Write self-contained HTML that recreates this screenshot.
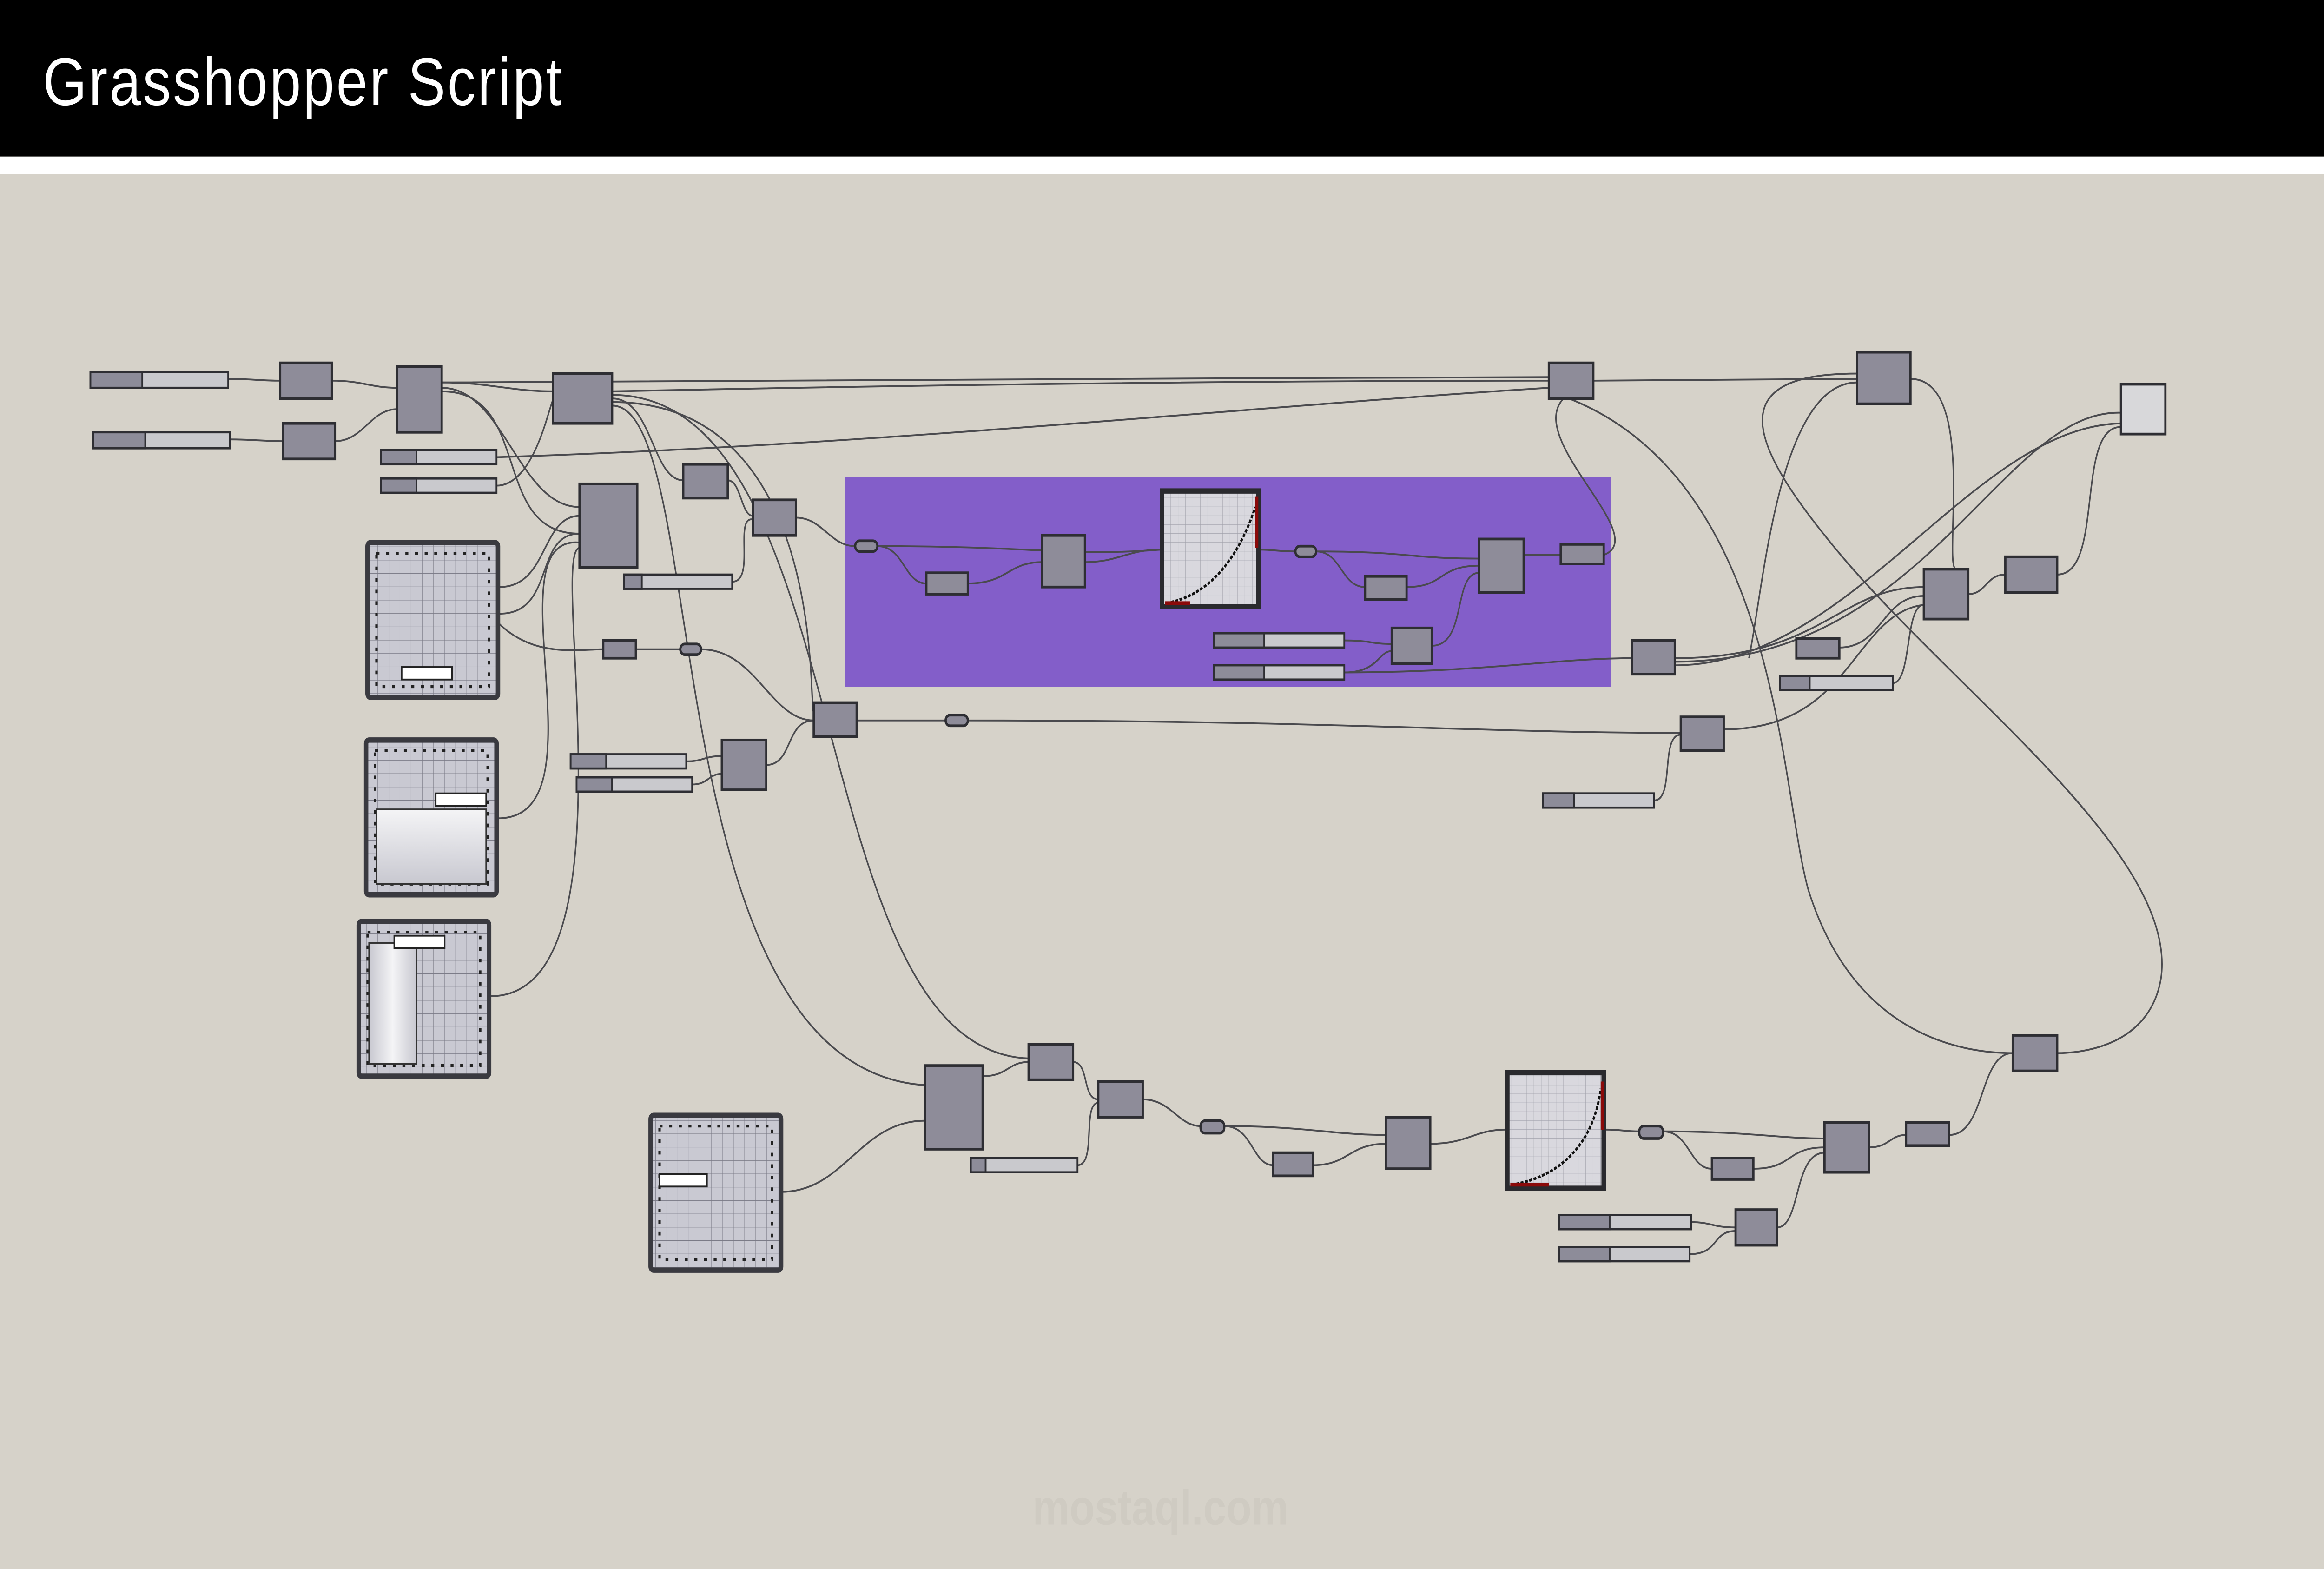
<!DOCTYPE html>
<html><head><meta charset="utf-8"><style>html,body{margin:0;padding:0;background:#d6d2c9;width:100%;height:100%;overflow:hidden}svg{display:block;position:fixed;left:0;top:0;width:100vw;height:100vh}</style></head><body>
<svg viewBox="0 0 1568 882" preserveAspectRatio="none" xmlns="http://www.w3.org/2000/svg">
<defs>
<pattern id="g" width="7.5" height="7.5" patternUnits="userSpaceOnUse"><rect width="7.5" height="7.5" fill="#c9c9d2"/><path d="M7.5 0V7.5M0 7.5H7.5" stroke="#7a7a86" stroke-width="0.5"/></pattern>
<pattern id="g2" width="5" height="5" patternUnits="userSpaceOnUse"><rect width="5" height="5" fill="#d9d8de"/><path d="M5 0V5M0 5H5" stroke="#a0a0aa" stroke-width="0.4"/></pattern>
<linearGradient id="wg" x1="0" y1="0" x2="0" y2="1"><stop offset="0" stop-color="#f4f4f6"/><stop offset="1" stop-color="#c8c8d0"/></linearGradient>
<linearGradient id="wg2" x1="0" y1="0" x2="1" y2="0"><stop offset="0" stop-color="#c8c8d0"/><stop offset="0.5" stop-color="#f4f4f6"/><stop offset="1" stop-color="#c8c8d0"/></linearGradient>
</defs>
<rect x="0" y="0" width="1568" height="882" fill="#d6d2c9"/>
<rect x="0" y="0" width="1568" height="88" fill="#000"/>
<rect x="0" y="88" width="1568" height="10" fill="#fff"/>
<text x="29" y="59" fill="#fff" font-family="Liberation Sans, sans-serif" font-size="38" textLength="350">Grasshopper Script</text>
<text x="783" y="857" fill="#cfcbc2" font-family="Liberation Sans, sans-serif" font-size="28" font-weight="bold" text-anchor="middle">mostaql.com</text>

<rect x="570" y="268" width="517" height="118" fill="#835ec9"/>

<g fill="none" stroke="#4a4a4e" stroke-width="1">
<path d="M154 213C170 213 175 214 189 214"/><path d="M155 247C170 247 178 248 191 248"/>
<path d="M224 214C245 214 250 218 268 218"/><path d="M226 248C245 248 250 230 268 230"/>
<path d="M298 215C330 215 345 220 373 220"/>
<path d="M298 215C600 215 800 212 1045 212"/>
<path d="M413 220C700 215 900 214 1045 214"/>
<path d="M335 257C600 250 850 228 1045 218"/>
<path d="M298 218C340 218 350 285 391 285"/><path d="M298 220C360 220 330 300 391 300"/>
<path d="M335 273C360 273 370 230 373 225"/>
<path d="M413 224C440 224 440 270 461 270"/>
<path d="M413 226C560 226 545 400 549 400"/>
<path d="M413 228C480 228 440 600 624 610"/>
<path d="M413 222C580 222 540 590 694 595"/>
<path d="M491 270C500 270 500 290 508 290"/><path d="M494 327C510 327 495 290 508 292"/>
<path d="M537 291C555 291 560 307 577 307"/>
<path d="M592 307C610 307 610 328 625 328"/><path d="M653 328C680 328 680 316 703 316"/>
<path d="M592 307C700 307 720 313 783 309"/>
<path d="M732 316C755 316 760 309 783 309"/>
<path d="M850 309C860 309 862 310 874 310"/><path d="M888 310C905 310 905 330 921 330"/>
<path d="M949 330C975 330 970 318 998 318"/><path d="M888 310C950 310 950 314 998 314"/>
<path d="M907 360C925 360 925 362 939 362"/><path d="M907 378C930 378 930 366 939 366"/>
<path d="M966 363C990 363 980 322 998 322"/>
<path d="M1028 312C1040 312 1040 312 1053 312"/>
<path d="M1075 216C1000 230 1120 300 1082 312"/>
<path d="M337 330C370 330 365 290 391 290"/><path d="M337 345C375 345 360 300 391 300"/>
<path d="M336 460C410 460 330 300 391 305"/><path d="M331 560C430 560 370 310 391 308"/>
<path d="M336 350C360 370 390 365 407 365"/>
<path d="M429 365C445 365 445 365 459 365"/><path d="M473 365C510 365 520 405 549 405"/>
<path d="M517 430C535 430 530 405 549 405"/>
<path d="M463 428C475 428 475 425 487 425"/><path d="M467 441C478 441 478 435 487 435"/>
<path d="M578 405C610 405 610 405 638 405"/><path d="M653 405C900 405 1000 412 1134 412"/>
<path d="M907 378C1000 378 1050 370 1101 370"/>
<path d="M1116 450C1130 450 1120 413 1134 413"/>
<path d="M1163 410C1250 410 1250 345 1298 340"/>
<path d="M1130 370C1230 370 1240 330 1298 330"/>
<path d="M1130 372C1300 372 1350 230 1431 232"/>
<path d="M1130 374C1250 374 1330 240 1431 238"/>
<path d="M1241 364C1270 364 1270 335 1298 335"/><path d="M1277 384C1290 384 1285 340 1298 340"/>
<path d="M1328 334C1340 334 1340 323 1353 323"/><path d="M1388 323C1420 323 1400 240 1431 240"/>
<path d="M1075 214C1150 214 1200 213 1253 213"/>
<path d="M1289 213C1335 213 1310 320 1320 320"/>
<path d="M1253 210C1160 210 1180 250 1240 310C1320 390 1470 480 1458 550C1450 590 1400 592 1388 592"/>
<path d="M1045 220C1200 260 1200 440 1220 500C1250 580 1320 592 1358 592"/>
<path d="M1253 215C1200 215 1190 330 1180 370"/>
<path d="M527 670C570 670 580 630 624 630"/>
<path d="M663 605C680 605 680 597 694 597"/><path d="M724 597C735 597 730 618 741 618"/>
<path d="M727 655C740 655 730 620 741 620"/>
<path d="M771 618C790 618 795 633 810 633"/><path d="M826 633C845 633 845 655 859 655"/>
<path d="M886 655C910 655 910 643 935 643"/><path d="M826 633C880 633 900 638 935 638"/>
<path d="M965 643C990 643 995 635 1016 635"/><path d="M1083 635C1095 635 1095 636 1106 636"/>
<path d="M1122 636C1140 636 1140 657 1155 657"/><path d="M1183 657C1210 657 1205 645 1231 645"/>
<path d="M1122 636C1180 636 1200 640 1231 640"/>
<path d="M1261 645C1275 645 1275 638 1286 638"/><path d="M1315 638C1340 638 1335 592 1358 592"/>
<path d="M1141 687C1155 687 1155 690 1171 690"/><path d="M1140 705C1160 705 1155 692 1171 692"/>
<path d="M1199 690C1215 690 1210 648 1231 648"/>
</g>

<g stroke="#2e2e33" stroke-width="1.2" fill="#c9c9cd">
<g>
<rect x="61" y="209" width="93" height="9"/><rect x="61" y="209" width="35" height="9" fill="#8d8c99"/>
<rect x="63" y="243" width="92" height="9"/><rect x="63" y="243" width="35" height="9" fill="#8d8c99"/>
<rect x="257" y="253" width="78" height="8"/><rect x="257" y="253" width="24" height="8" fill="#8d8c99"/>
<rect x="257" y="269" width="78" height="8"/><rect x="257" y="269" width="24" height="8" fill="#8d8c99"/>
<rect x="421" y="323" width="73" height="8"/><rect x="421" y="323" width="12" height="8" fill="#8d8c99"/>
<rect x="385" y="424" width="78" height="8"/><rect x="385" y="424" width="24" height="8" fill="#8d8c99"/>
<rect x="389" y="437" width="78" height="8"/><rect x="389" y="437" width="24" height="8" fill="#8d8c99"/>
<rect x="819" y="356" width="88" height="8"/><rect x="819" y="356" width="34" height="8" fill="#8d8c99"/>
<rect x="819" y="374" width="88" height="8"/><rect x="819" y="374" width="34" height="8" fill="#8d8c99"/>
<rect x="1041" y="446" width="75" height="8"/><rect x="1041" y="446" width="21" height="8" fill="#8d8c99"/>
<rect x="1201" y="380" width="76" height="8"/><rect x="1201" y="380" width="20" height="8" fill="#8d8c99"/>
<rect x="655" y="651" width="72" height="8"/><rect x="655" y="651" width="10" height="8" fill="#8d8c99"/>
<rect x="1052" y="683" width="89" height="8"/><rect x="1052" y="683" width="34" height="8" fill="#8d8c99"/>
<rect x="1052" y="701" width="88" height="8"/><rect x="1052" y="701" width="34" height="8" fill="#8d8c99"/>
</g>
<g fill="#8e8c99" stroke-width="1.5">
<rect x="189" y="204" width="35" height="20"/><rect x="191" y="238" width="35" height="20"/>
<rect x="268" y="206" width="30" height="37"/><rect x="373" y="210" width="40" height="28"/>
<rect x="391" y="272" width="39" height="47"/><rect x="461" y="261" width="30" height="19"/>
<rect x="508" y="281" width="29" height="20"/><rect x="549" y="395" width="29" height="19"/>
<rect x="487" y="416" width="30" height="28"/><rect x="407" y="360" width="22" height="10"/>
<rect x="625" y="322" width="28" height="12"/><rect x="703" y="301" width="29" height="29"/>
<rect x="921" y="324" width="28" height="13"/><rect x="998" y="303" width="30" height="30"/>
<rect x="1053" y="306" width="29" height="11"/><rect x="939" y="353" width="27" height="20"/>
<rect x="1101" y="360" width="29" height="19"/><rect x="1045" y="204" width="30" height="20"/>
<rect x="1253" y="198" width="36" height="29"/>
<rect x="1298" y="320" width="30" height="28"/><rect x="1353" y="313" width="35" height="20"/>
<rect x="1212" y="359" width="29" height="11"/><rect x="1134" y="403" width="29" height="19"/>
<rect x="624" y="599" width="39" height="47"/><rect x="694" y="587" width="30" height="20"/>
<rect x="741" y="608" width="30" height="20"/><rect x="859" y="648" width="27" height="13"/>
<rect x="935" y="628" width="30" height="29"/><rect x="1155" y="651" width="28" height="12"/>
<rect x="1231" y="631" width="30" height="28"/><rect x="1286" y="631" width="29" height="13"/>
<rect x="1171" y="680" width="28" height="20"/><rect x="1358" y="582" width="30" height="20"/>
<rect x="1431" y="216" width="30" height="28" fill="#d8d8da"/>
<rect x="577" y="304" width="15" height="6" rx="3"/><rect x="459" y="362" width="14" height="6" rx="3"/>
<rect x="638" y="402" width="15" height="6" rx="3"/><rect x="874" y="307" width="14" height="6" rx="3"/>
<rect x="810" y="630" width="16" height="7" rx="3"/><rect x="1106" y="633" width="16" height="7" rx="3"/>
</g>
</g>

<g stroke="#3a3a40" stroke-width="3">
<rect x="248" y="305" width="88" height="87" rx="2" fill="url(#g)"/>
<rect x="247" y="416" width="88" height="87" rx="2" fill="url(#g)"/>
<rect x="242" y="518" width="88" height="87" rx="2" fill="url(#g)"/>
<rect x="439" y="627" width="88" height="87" rx="2" fill="url(#g)"/>
</g>
<g fill="none" stroke="#222" stroke-width="1.6" stroke-dasharray="2,4.5">
<rect x="254" y="311" width="76" height="75"/><rect x="253" y="422" width="76" height="75"/>
<rect x="248" y="524" width="76" height="75"/><rect x="445" y="633" width="76" height="75"/>
</g>
<rect x="254" y="455" width="74" height="42" fill="url(#wg)" stroke="#333" stroke-width="1"/>
<rect x="249" y="530" width="32" height="68" fill="url(#wg2)" stroke="#333" stroke-width="1"/>
<rect x="271" y="375" width="34" height="7" fill="#fff" stroke="#222" stroke-width="1"/>
<rect x="294" y="446" width="34" height="7" fill="#fff" stroke="#222" stroke-width="1"/>
<rect x="266" y="526" width="34" height="7" fill="#fff" stroke="#222" stroke-width="1"/>
<rect x="445" y="660" width="32" height="7" fill="#fff" stroke="#222" stroke-width="1"/>

<g>
<rect x="784" y="276" width="65" height="65" fill="url(#g2)" stroke="#2a2a2e" stroke-width="3"/>
<path d="M787 339C815 335 835 315 847 285" fill="none" stroke="#111" stroke-width="1.5" stroke-dasharray="2,1"/>
<path d="M786 339H803M848 279V308" stroke="#8b0a0a" stroke-width="2"/>
<rect x="1017" y="603" width="65" height="65" fill="url(#g2)" stroke="#2a2a2e" stroke-width="3"/>
<path d="M1020 666C1050 662 1075 645 1080 612" fill="none" stroke="#111" stroke-width="1.5" stroke-dasharray="2,1"/>
<path d="M1019 666H1045M1081 608V635" stroke="#8b0a0a" stroke-width="2"/>
</g>
</svg>
</body></html>
